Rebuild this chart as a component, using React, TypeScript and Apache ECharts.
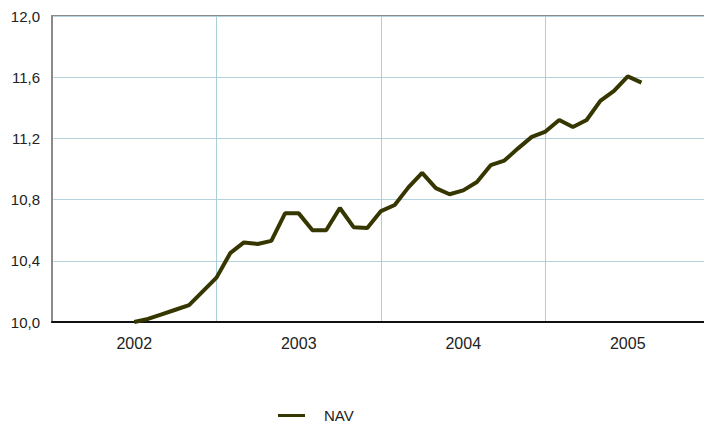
import React, { useEffect, useRef } from "react";
import * as echarts from "echarts";

const years = ["2002", "2003", "2004", "2005"];
const yTicks = [10.0, 10.4, 10.8, 11.2, 11.6, 12.0];
// month index (0 = Jan 2002) for each NAV observation
const months = [
  6, 7, 8, 9, 10, 11, 12, 13, 14, 15, 16, 17, 18, 19, 20, 21, 22, 23, 24, 25, 26, 27, 28, 29, 30, 31,
  32, 33, 34, 35, 36, 37, 38, 39, 40, 41, 42, 43,
];
const nav = [
  10.0, 10.02, 10.05, 10.08, 10.11, 10.2, 10.29, 10.45, 10.52, 10.51, 10.53, 10.71, 10.71, 10.6, 10.6,
  10.745, 10.62, 10.615, 10.725, 10.765, 10.88, 10.975, 10.875, 10.835, 10.86, 10.915, 11.025, 11.055,
  11.135, 11.21, 11.245, 11.32, 11.275, 11.32, 11.445, 11.51, 11.605, 11.565,
];
const seriesName = "NAV";

export default function App() {
  const ref = useRef<HTMLDivElement>(null);
  useEffect(() => {
    if (!ref.current) return;
    const chart = echarts.init(ref.current, undefined, { renderer: "svg" });
    const font = "'Liberation Sans', Arial, sans-serif";
    chart.setOption({
      animation: false,
      backgroundColor: "#ffffff",
      textStyle: { fontFamily: font },
      grid: {
        left: 52,
        top: 16,
        width: 658,
        height: 306,
        outerBoundsMode: "none",
        containLabel: false,
        show: true,
        borderColor: "#8a8a8a",
        borderWidth: 2,
        backgroundColor: "transparent",
      },
      legend: {
        data: [seriesName],
        left: 278,
        top: 408,
        padding: 0,
        itemWidth: 27,
        itemHeight: 3,
        icon: "rect",
        textStyle: { color: "#222", fontSize: 15, fontFamily: font, padding: [0, 0, 0, 14] },
      },
      xAxis: [
        {
          type: "value",
          min: 0,
          max: 48,
          show: false,
        },
        {
          type: "category",
          data: years,
          position: "bottom",
          boundaryGap: true,
          axisLine: { show: true, lineStyle: { color: "#111", width: 2 } },
          axisTick: { show: false },
          axisLabel: { color: "#222", fontSize: 16, margin: 13, fontFamily: font },
          splitLine: { show: true, lineStyle: { color: "#a9cfdb", width: 1 } },
        },
      ],
      yAxis: {
        type: "value",
        min: 10,
        max: 12,
        interval: 0.4,
        axisLine: { show: true, lineStyle: { color: "#8a8a8a", width: 2 } },
        axisTick: { show: false },
        axisLabel: {
          color: "#222",
          fontSize: 15,
          margin: 12,
          fontFamily: font,
          formatter: (v: number) => {
            const t = yTicks.find((x) => Math.abs(x - v) < 1e-6);
            return (t ?? v).toFixed(1).replace(".", ",");
          },
        },
        splitLine: { show: true, lineStyle: { color: "#b5d3dd", width: 1 } },
      },
      series: [
        {
          name: seriesName,
          type: "line",
          xAxisIndex: 0,
          data: months.map((m, i) => [m, nav[i]]),
          symbol: "none",
          lineStyle: { color: "#363600", width: 4 },
          itemStyle: { color: "#363600" },
        },
      ],
    });
    return () => chart.dispose();
  }, []);
  return (
    <div
      ref={ref}
      style={{ position: "absolute", left: 0, top: 0, width: 704, height: 425 }}
    />
  );
}
